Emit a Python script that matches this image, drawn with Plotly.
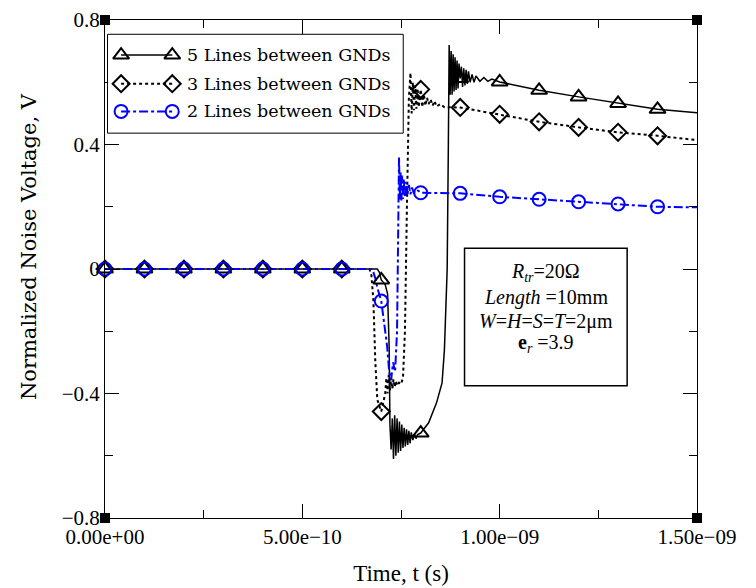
import plotly.graph_objects as go

# ---------------- data (time in s, normalized noise voltage in V) ----------------
s5 = [(0, 0), (6.9e-10, 0), (6.95e-10, -0.01), (7.0e-10, -0.035), (7.1e-10, -0.05), (7.16e-10, -0.08),
      (7.2e-10, -0.25), (7.22e-10, -0.50),
      (7.25e-10, -0.58), (7.28e-10, -0.48), (7.31e-10, -0.61), (7.34e-10, -0.47), (7.37e-10, -0.60),
      (7.40e-10, -0.48), (7.43e-10, -0.59), (7.46e-10, -0.49), (7.49e-10, -0.585), (7.52e-10, -0.50),
      (7.55e-10, -0.575), (7.58e-10, -0.51), (7.61e-10, -0.57), (7.64e-10, -0.515), (7.67e-10, -0.565),
      (7.70e-10, -0.52), (7.73e-10, -0.56), (7.76e-10, -0.525), (7.80e-10, -0.55), (7.84e-10, -0.53),
      (7.88e-10, -0.545), (7.92e-10, -0.532), (8.0e-10, -0.527), (8.2e-10, -0.494), (8.4e-10, -0.43),
      (8.54e-10, -0.366), (8.6e-10, -0.26), (8.65e-10, -0.1), (8.67e-10, 0.0), (8.70e-10, 0.4),
      (8.72e-10, 0.72), (8.745e-10, 0.56), (8.77e-10, 0.70), (8.795e-10, 0.56), (8.82e-10, 0.69),
      (8.845e-10, 0.57), (8.87e-10, 0.68), (8.895e-10, 0.575), (8.92e-10, 0.67), (8.945e-10, 0.58),
      (8.97e-10, 0.66), (9.0e-10, 0.612), (9.03e-10, 0.65), (9.06e-10, 0.585), (9.09e-10, 0.645),
      (9.12e-10, 0.59), (9.15e-10, 0.64), (9.18e-10, 0.595), (9.21e-10, 0.635), (9.25e-10, 0.60),
      (9.3e-10, 0.625), (9.35e-10, 0.60), (9.4e-10, 0.62), (9.5e-10, 0.603), (9.6e-10, 0.615),
      (9.7e-10, 0.603), (9.8e-10, 0.61), (1.0e-9, 0.601), (1.1e-9, 0.574), (1.2e-9, 0.553),
      (1.3e-9, 0.532), (1.4e-9, 0.513), (1.5e-9, 0.502)]

s3 = [(0, 0), (6.7e-10, 0), (6.75e-10, -0.02), (6.8e-10, -0.1), (6.85e-10, -0.3), (6.9e-10, -0.42),
      (7.0e-10, -0.458), (7.05e-10, -0.43), (7.1e-10, -0.40), (7.13e-10, -0.35), (7.16e-10, -0.40),
      (7.19e-10, -0.34), (7.22e-10, -0.39), (7.25e-10, -0.35), (7.28e-10, -0.385), (7.31e-10, -0.355),
      (7.34e-10, -0.38), (7.37e-10, -0.36), (7.4e-10, -0.375), (7.45e-10, -0.365), (7.5e-10, -0.37),
      (7.55e-10, -0.35), (7.6e-10, -0.2), (7.65e-10, 0.2), (7.7e-10, 0.55), (7.74e-10, 0.63),
      (7.77e-10, 0.50), (7.80e-10, 0.60), (7.83e-10, 0.51), (7.86e-10, 0.59), (7.89e-10, 0.515),
      (7.92e-10, 0.58), (7.95e-10, 0.52), (8.0e-10, 0.577), (8.04e-10, 0.52), (8.08e-10, 0.56),
      (8.12e-10, 0.525), (8.16e-10, 0.55), (8.2e-10, 0.53), (8.25e-10, 0.545), (8.3e-10, 0.525),
      (8.35e-10, 0.54), (8.4e-10, 0.522), (8.5e-10, 0.53), (8.6e-10, 0.52), (9.0e-10, 0.519),
      (1.0e-9, 0.497), (1.1e-9, 0.473), (1.2e-9, 0.455), (1.3e-9, 0.439), (1.4e-9, 0.428),
      (1.5e-9, 0.414)]

s2 = [(0, 0), (6.75e-10, 0), (6.8e-10, -0.01), (6.85e-10, -0.03), (6.9e-10, -0.06), (7.0e-10, -0.103),
      (7.1e-10, -0.2), (7.15e-10, -0.25), (7.2e-10, -0.33), (7.25e-10, -0.356), (7.3e-10, -0.3),
      (7.35e-10, -0.33), (7.4e-10, -0.2), (7.42e-10, 0.1), (7.45e-10, 0.36), (7.47e-10, 0.22),
      (7.49e-10, 0.31), (7.51e-10, 0.22), (7.53e-10, 0.30), (7.55e-10, 0.225), (7.57e-10, 0.29),
      (7.6e-10, 0.23), (7.63e-10, 0.28), (7.66e-10, 0.235), (7.7e-10, 0.27), (7.74e-10, 0.24),
      (7.78e-10, 0.262), (7.82e-10, 0.245), (7.9e-10, 0.255), (8.0e-10, 0.245), (8.5e-10, 0.245),
      (9.0e-10, 0.243), (1.0e-9, 0.232), (1.1e-9, 0.224), (1.2e-9, 0.216), (1.3e-9, 0.209),
      (1.4e-9, 0.200), (1.5e-9, 0.198)]

# marker sample times and values
mt = [0, 1e-10, 2e-10, 3e-10, 4e-10, 5e-10, 6e-10, 7e-10, 8e-10, 9e-10,
      1.0e-9, 1.1e-9, 1.2e-9, 1.3e-9, 1.4e-9]
m5 = [0, 0, 0, 0, 0, 0, 0, -0.035, -0.527, 0.612, 0.601, 0.574, 0.553, 0.532, 0.513]
m3 = [0, 0, 0, 0, 0, 0, 0, -0.458, 0.577, 0.519, 0.497, 0.473, 0.455, 0.439, 0.428]
m2 = [0, 0, 0, 0, 0, 0, 0, -0.103, 0.245, 0.243, 0.232, 0.224, 0.216, 0.209, 0.200]

names = ["5 Lines between GNDs", "3 Lines between GNDs", "2 Lines between GNDs"]

x_tickvals = [0, 5e-10, 1e-9, 1.5e-9]
x_ticktext = ["0.00e+00", "5.00e\u221210", "1.00e\u221209", "1.50e\u221209"]
x_minor = [2.5e-10, 7.5e-10, 1.25e-9]
y_tickvals = [-0.8, -0.4, 0, 0.4, 0.8]
y_ticktext = ["\u22120.8", "\u22120.4", "0", "0.4", "0.8"]
y_minor = [-0.6, -0.2, 0.2, 0.6]
x_range = [0, 1.5e-9]
y_range = [-0.8, 0.8]

info_lines = ["<i>R</i><sub><i>tr</i></sub>=20\u03a9",
              "<i>Length</i> =10mm",
              "<i>W</i>=<i>H</i>=<i>S</i>=<i>T</i>=2\u03bcm",
              "<b>e</b><sub><i>r</i></sub> =3.9"]

# ---------------- figure ----------------
BLUE = "#0000ff"
styles = [
    dict(color="black", dash="solid", width=1.5, symbol="triangle-up-open", size=14),
    dict(color="black", dash="dot", width=2, symbol="diamond-open", size=13),
    dict(color=BLUE, dash="dashdot", width=2, symbol="circle-open", size=13),
]
series = [(s5, m5), (s3, m3), (s2, m2)]

fig = go.Figure()
for (pts, my), st in zip(series, styles):
    tx = [p[0] for p in pts]
    vy = [p[1] for p in pts]
    fig.add_trace(go.Scatter(x=tx, y=vy, mode="lines",
                             line=dict(color=st["color"], dash=st["dash"], width=st["width"]),
                             showlegend=False, hoverinfo="skip"))
for (pts, my), st in zip(series, styles):
    fig.add_trace(go.Scatter(x=mt, y=my, mode="markers", cliponaxis=False,
                             marker=dict(symbol=st["symbol"], size=st["size"], color=st["color"],
                                         line=dict(width=2, color=st["color"])),
                             showlegend=False, hoverinfo="skip"))

# corner squares
fig.add_trace(go.Scatter(x=[x_range[0], x_range[0], x_range[1], x_range[1]],
                         y=[y_range[0], y_range[1], y_range[0], y_range[1]],
                         mode="markers", cliponaxis=False,
                         marker=dict(symbol="square", size=10, color="black"),
                         showlegend=False, hoverinfo="skip"))

# manual legend on a helper axis
leg_rows = [0.79, 0.50, 0.22]
for row, st, nm in zip(leg_rows, styles, names):
    fig.add_trace(go.Scatter(x=[0.046, 0.219], y=[row, row], mode="lines+markers",
                             xaxis="x2", yaxis="y2", cliponaxis=False,
                             line=dict(color=st["color"], dash=st["dash"], width=st["width"]),
                             marker=dict(symbol=st["symbol"], size=st["size"], color=st["color"],
                                         line=dict(width=2, color=st["color"])),
                             showlegend=False, hoverinfo="skip"))
    fig.add_annotation(x=0.262, y=row, xref="x2", yref="y2", text=nm, showarrow=False,
                       xanchor="left", yanchor="middle",
                       font=dict(family="DejaVu Serif", size=17.5, color="black"))

fig.add_shape(type="rect", xref="paper", yref="paper", x0=0.0042, x1=0.5038, y0=0.7728, y1=0.9713,
              line=dict(color="black", width=1), fillcolor="rgba(0,0,0,0)")

# info box
fig.add_shape(type="rect", xref="x", yref="y", x0=9.11e-10, x1=13.23e-10, y0=-0.375, y1=0.067,
              line=dict(color="black", width=1.5), fillcolor="white", layer="below")
info_y = [-0.01, -0.093, -0.169, -0.24]
for txt, yy in zip(info_lines, info_y):
    fig.add_annotation(x=11.17e-10, y=yy, xref="x", yref="y", showarrow=False, text=txt,
                       xanchor="center", yanchor="middle",
                       font=dict(family="Liberation Serif", size=20, color="black"))

# y title
fig.add_annotation(x=-0.152, y=0.544, xref="paper", yref="paper", showarrow=False,
                   text="Normalized Noise Voltage, V", textangle=-90,
                   font=dict(family="DejaVu Serif", size=21, color="black"))

axis_common = dict(showgrid=False, zeroline=False, showline=True, linecolor="black", linewidth=1,
                   mirror="ticks", ticks="inside", ticklen=14, tickwidth=1, tickcolor="black",
                   automargin=False,
                   tickfont=dict(family="Liberation Serif", size=21, color="black"))

fig.update_layout(
    width=756, height=588,
    margin=dict(l=105, r=59, t=20, b=70, autoexpand=False),
    paper_bgcolor="white", plot_bgcolor="white",
    xaxis=dict(range=x_range, tickmode="array", tickvals=x_tickvals, ticktext=x_ticktext,
               minor=dict(ticks="inside", ticklen=8, tickvals=x_minor, tickcolor="black"),
               title=dict(text="Time, t (s)", font=dict(family="Liberation Serif", size=23, color="black"),
                          standoff=16),
               **axis_common),
    yaxis=dict(range=y_range, tickmode="array", tickvals=y_tickvals, ticktext=y_ticktext,
               minor=dict(ticks="inside", ticklen=8, tickvals=y_minor, tickcolor="black"),
               **axis_common),
    xaxis2=dict(domain=[0.0042, 0.5038], range=[0, 1], visible=False, anchor="y2"),
    yaxis2=dict(domain=[0.7728, 0.9713], range=[0, 1], visible=False, anchor="x2"),
    showlegend=False,
)

fig.write_html("out.html")
